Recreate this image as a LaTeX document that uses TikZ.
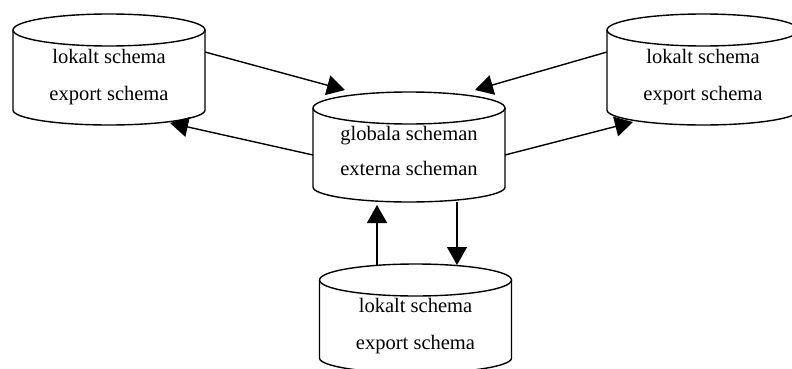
\documentclass[tikz,border=0pt]{standalone}
\usepackage{fontspec}
\setmainfont{Liberation Serif}
\usetikzlibrary{arrows.meta}
\tikzset{
  cyl/.style={line width=1.4bp},
  link/.style={line width=1.4bp, -{Triangle[length=18bp,width=20bp]}},
  lbl/.style={anchor=base, inner sep=0pt, font=\fontsize{20.6}{24}\selectfont},
}
% database cylinder: centre x, centre y of the top rim, y where the sides end
\newcommand\dbcylinder[3]{%
  \draw[cyl] (#1-96,#2) -- (#1-96,#3)
    arc[start angle=180,end angle=360,x radius=96,y radius=15] -- (#1+96,#2);
  \draw[cyl] (#1,#2) ellipse[x radius=96,y radius=16];
}
\begin{document}
\begin{tikzpicture}[x=1bp,y=1bp]
\useasboundingbox (0,0) rectangle (792,368);
\fill[white] (0,0) rectangle (792,368);
\clip (0,0) rectangle (792,368);

% the four schema stores
\dbcylinder{109}{338}{258}
\dbcylinder{703}{338}{258}
\dbcylinder{409}{260}{181}
\dbcylinder{415.5}{88}{10}

\node[lbl] (l1) at (109,305) {lokalt schema};
\node[lbl] (l2) at (109,268) {export schema};
\node[lbl] (r1) at (703,305) {lokalt schema};
\node[lbl] (r2) at (703,268) {export schema};
\node[lbl] (g1) at (409,228) {globala scheman};
\node[lbl] (g2) at (409,193) {externa scheman};
\node[lbl] (b1) at (415.5,56) {lokalt schema};
\node[lbl] (b2) at (415.5,19) {export schema};

% connection points on the cylinder outlines
\coordinate (lOut) at (205,316);
\coordinate (lIn)  at (170,245);
\coordinate (rOut) at (607,316);
\coordinate (rIn)  at (633,246);
\coordinate (gInL) at (345,278);
\coordinate (gOutL) at (313,213);
\coordinate (gInR) at (475,278);
\coordinate (gOutR) at (505,213);
\coordinate (gInB) at (377,163);
\coordinate (gOutB) at (457,166);
\coordinate (bOut) at (377,103);
\coordinate (bIn)  at (457,103);

\draw[link] (lOut) -- (gInL);
\draw[link] (gOutL) -- (lIn);
\draw[link] (rOut) -- (gInR);
\draw[link] (gOutR) -- (rIn);
\draw[link] (bOut) -- (gInB);
\draw[link] (gOutB) -- (bIn);
\end{tikzpicture}
\end{document}
